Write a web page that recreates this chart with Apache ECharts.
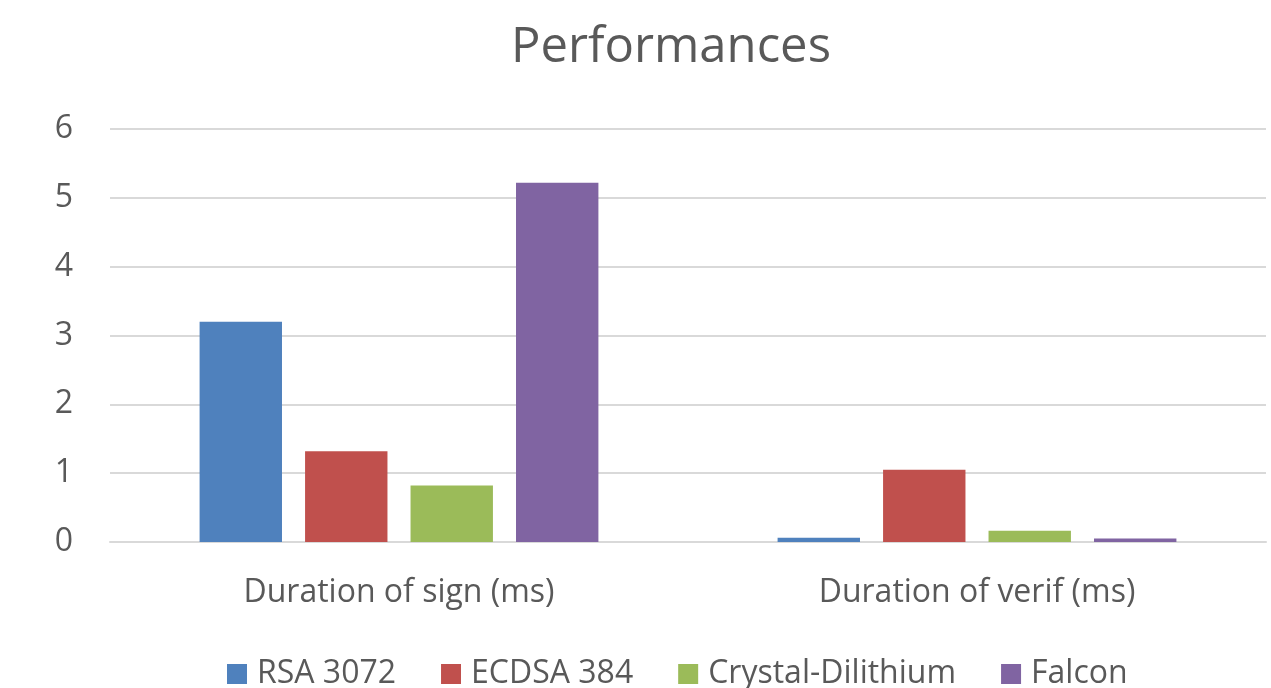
<!DOCTYPE html>
<html>
<head>
    <meta charset="utf-8">
    <title>Performances</title>
    <script src="https://cdn.jsdelivr.net/npm/echarts@6/dist/echarts.min.js"></script>
    <style>
        html, body { margin: 0; padding: 0; background: #fff; }
        #main { width: 1271px; height: 688px; }
    </style>
</head>
<body>
<div id="main"></div>
<script>
    // categories and series values
    var categories = ['Duration of sign (ms)', 'Duration of verif (ms)'];
    var seriesNames = ['RSA 3072', 'ECDSA 384', 'Crystal-Dilithium', 'Falcon'];
    var rsaData = [3.2, 0.06];
    var ecdsaData = [1.32, 1.05];
    var dilithiumData = [0.82, 0.165];
    var falconData = [5.22, 0.05];
    var yTicks = [0, 1, 2, 3, 4, 5, 6];

    var colors = ['#4F81BD', '#C0504D', '#9BBB59', '#8064A2'];
    var values = [rsaData, ecdsaData, dilithiumData, falconData];
    var fontName = '"Open Sans", sans-serif';

    var series = [];
    for (var i = 0; i < seriesNames.length; i++) {
        series.push({
            name: seriesNames[i],
            type: 'bar',
            data: values[i],
            barGap: '28%',
            barCategoryGap: '31%',
            itemStyle: { color: colors[i] }
        });
    }

    var option = {
        animation: false,
        backgroundColor: '#fff',
        title: {
            text: 'Performances',
            left: 506,
            top: 19,
            textStyle: { fontFamily: fontName, fontSize: 49, fontWeight: 'normal', color: '#595959' }
        },
        legend: {
            data: seriesNames,
            left: 222,
            top: 653,
            itemWidth: 20,
            itemHeight: 20,
            itemGap: 45,
            icon: 'rect',
            textStyle: { fontFamily: fontName, fontSize: 32, color: '#595959', padding: [0, 0, 0, 5] }
        },
        grid: { left: 110, right: 5, top: 129, bottom: 146 },
        xAxis: {
            type: 'category',
            data: categories,
            axisLine: { lineStyle: { color: '#d9d9d9', width: 2 } },
            axisTick: { show: false },
            axisLabel: { margin: 35, fontFamily: fontName, fontSize: 32, color: '#595959' }
        },
        yAxis: {
            type: 'value',
            min: yTicks[0],
            max: yTicks[yTicks.length - 1],
            interval: 1,
            axisLine: { show: false },
            axisTick: { show: false },
            splitLine: { lineStyle: { color: '#d9d9d9', width: 2 } },
            axisLabel: { margin: 37, fontFamily: fontName, fontSize: 32, color: '#595959' }
        },
        series: series
    };

    var myChart = echarts.init(document.getElementById('main'));
    myChart.setOption(option);
</script>
</body>
</html>
